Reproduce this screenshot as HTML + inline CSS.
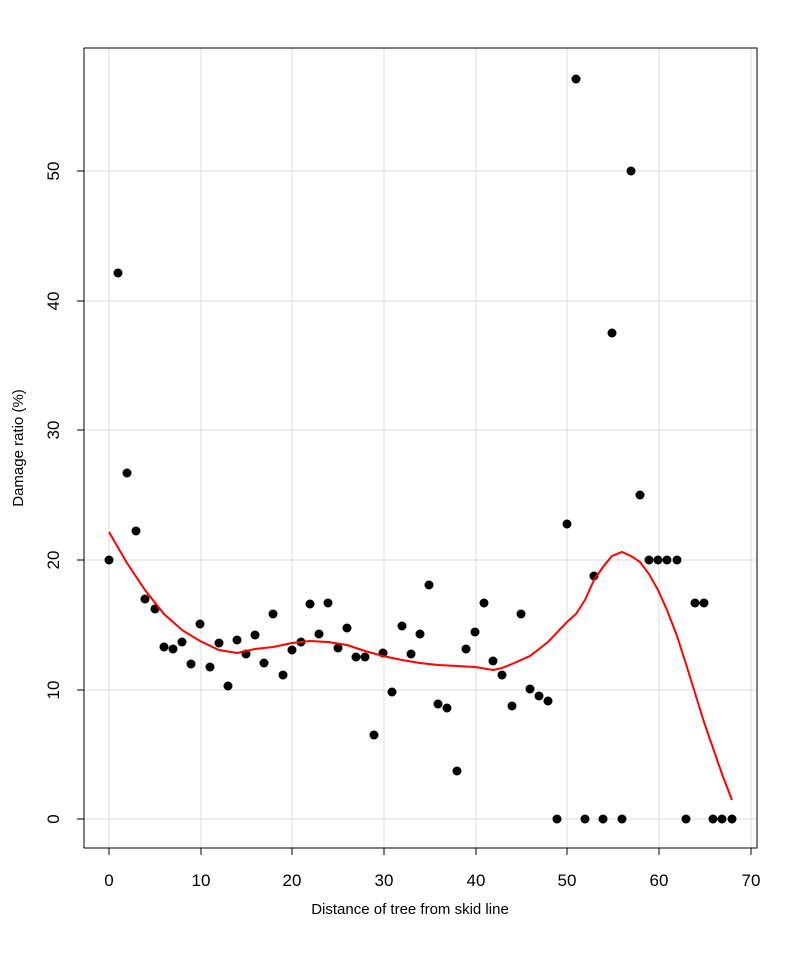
<!DOCTYPE html>
<html><head><style>html,body{margin:0;padding:0;background:#fff}</style></head><body>
<svg width="800" height="954" xmlns="http://www.w3.org/2000/svg" font-family="Liberation Sans, sans-serif">
<rect width="800" height="954" fill="#fff"/>
<g stroke="#dcdcdc" stroke-width="1">
<line x1="109" y1="48" x2="109" y2="848"/><line x1="201" y1="48" x2="201" y2="848"/><line x1="292" y1="48" x2="292" y2="848"/><line x1="384" y1="48" x2="384" y2="848"/><line x1="476" y1="48" x2="476" y2="848"/><line x1="567" y1="48" x2="567" y2="848"/><line x1="659" y1="48" x2="659" y2="848"/><line x1="751" y1="48" x2="751" y2="848"/>
<line x1="84" y1="819" x2="757" y2="819"/><line x1="84" y1="690" x2="757" y2="690"/><line x1="84" y1="560" x2="757" y2="560"/><line x1="84" y1="430" x2="757" y2="430"/><line x1="84" y1="301" x2="757" y2="301"/><line x1="84" y1="171" x2="757" y2="171"/>
</g>
<rect x="84" y="48" width="673" height="800" fill="none" stroke="#000"/>
<g stroke="#000">
<line x1="109" y1="848" x2="751" y2="848"/>
<line x1="109" y1="848" x2="109" y2="855"/><line x1="201" y1="848" x2="201" y2="855"/><line x1="292" y1="848" x2="292" y2="855"/><line x1="384" y1="848" x2="384" y2="855"/><line x1="476" y1="848" x2="476" y2="855"/><line x1="567" y1="848" x2="567" y2="855"/><line x1="659" y1="848" x2="659" y2="855"/><line x1="751" y1="848" x2="751" y2="855"/>
<line x1="84" y1="819" x2="84" y2="171"/>
<line x1="77" y1="819" x2="84" y2="819"/><line x1="77" y1="690" x2="84" y2="690"/><line x1="77" y1="560" x2="84" y2="560"/><line x1="77" y1="430" x2="84" y2="430"/><line x1="77" y1="301" x2="84" y2="301"/><line x1="77" y1="171" x2="84" y2="171"/>
</g>
<g font-size="17" text-anchor="middle" fill="#000">
<text x="109" y="886">0</text><text x="201" y="886">10</text><text x="292" y="886">20</text><text x="384" y="886">30</text><text x="476" y="886">40</text><text x="567" y="886">50</text><text x="659" y="886">60</text><text x="751" y="886">70</text>
<text transform="translate(59,819) rotate(-90)">0</text><text transform="translate(59,690) rotate(-90)">10</text><text transform="translate(59,560) rotate(-90)">20</text><text transform="translate(59,430) rotate(-90)">30</text><text transform="translate(59,301) rotate(-90)">40</text><text transform="translate(59,171) rotate(-90)">50</text>
</g>
<text x="410" y="914" font-size="15" text-anchor="middle">Distance of tree from skid line</text>
<text transform="translate(23,448) rotate(-90)" font-size="15" text-anchor="middle">Damage ratio (%)</text>
<g fill="#000">
<circle cx="109" cy="560" r="4.5"/><circle cx="118" cy="273" r="4.5"/><circle cx="127" cy="473" r="4.5"/><circle cx="136" cy="531" r="4.5"/><circle cx="145" cy="599" r="4.5"/><circle cx="155" cy="609" r="4.5"/><circle cx="164" cy="647" r="4.5"/><circle cx="173" cy="649" r="4.5"/><circle cx="182" cy="642" r="4.5"/><circle cx="191" cy="664" r="4.5"/><circle cx="200" cy="624" r="4.5"/><circle cx="210" cy="667" r="4.5"/><circle cx="219" cy="643" r="4.5"/><circle cx="228" cy="686" r="4.5"/><circle cx="237" cy="640" r="4.5"/><circle cx="246" cy="654" r="4.5"/><circle cx="255" cy="635" r="4.5"/><circle cx="264" cy="663" r="4.5"/><circle cx="273" cy="614" r="4.5"/><circle cx="283" cy="675" r="4.5"/><circle cx="292" cy="650" r="4.5"/><circle cx="301" cy="642" r="4.5"/><circle cx="310" cy="604" r="4.5"/><circle cx="319" cy="634" r="4.5"/><circle cx="328" cy="603" r="4.5"/><circle cx="338" cy="648" r="4.5"/><circle cx="347" cy="628" r="4.5"/><circle cx="356" cy="657" r="4.5"/><circle cx="365" cy="657" r="4.5"/><circle cx="374" cy="735" r="4.5"/><circle cx="383" cy="653" r="4.5"/><circle cx="392" cy="692" r="4.5"/><circle cx="402" cy="626" r="4.5"/><circle cx="411" cy="654" r="4.5"/><circle cx="420" cy="634" r="4.5"/><circle cx="429" cy="585" r="4.5"/><circle cx="438" cy="704" r="4.5"/><circle cx="447" cy="708" r="4.5"/><circle cx="457" cy="771" r="4.5"/><circle cx="466" cy="649" r="4.5"/><circle cx="475" cy="632" r="4.5"/><circle cx="484" cy="603" r="4.5"/><circle cx="493" cy="661" r="4.5"/><circle cx="502" cy="675" r="4.5"/><circle cx="512" cy="706" r="4.5"/><circle cx="521" cy="614" r="4.5"/><circle cx="530" cy="689" r="4.5"/><circle cx="539" cy="696" r="4.5"/><circle cx="548" cy="701" r="4.5"/><circle cx="557" cy="819" r="4.5"/><circle cx="567" cy="524" r="4.5"/><circle cx="576" cy="79" r="4.5"/><circle cx="585" cy="819" r="4.5"/><circle cx="594" cy="576" r="4.5"/><circle cx="603" cy="819" r="4.5"/><circle cx="612" cy="333" r="4.5"/><circle cx="622" cy="819" r="4.5"/><circle cx="631" cy="171" r="4.5"/><circle cx="640" cy="495" r="4.5"/><circle cx="649" cy="560" r="4.5"/><circle cx="658" cy="560" r="4.5"/><circle cx="667" cy="560" r="4.5"/><circle cx="677" cy="560" r="4.5"/><circle cx="686" cy="819" r="4.5"/><circle cx="695" cy="603" r="4.5"/><circle cx="704" cy="603" r="4.5"/><circle cx="713" cy="819" r="4.5"/><circle cx="722" cy="819" r="4.5"/><circle cx="732" cy="819" r="4.5"/>
</g>
<polyline fill="none" stroke="#ff0000" stroke-width="2" points="109,532 127,563 145,590 164,614 182,630 200,641 219,650 237,653 255,649 273,647 292,643 310,641 328,642 347,645 365,651 383,656 402,660 420,663 438,665 457,666 475,667 493,670 502,668 512,664 530,656 548,642 567,622 576,614 585,600 594,580 603,567 612,556 622,552 631,556 640,562 649,574 658,590 667,610 677,636 686,664 695,693 704,722 713,748 722,774 732,800"/>
</svg>
</body></html>
